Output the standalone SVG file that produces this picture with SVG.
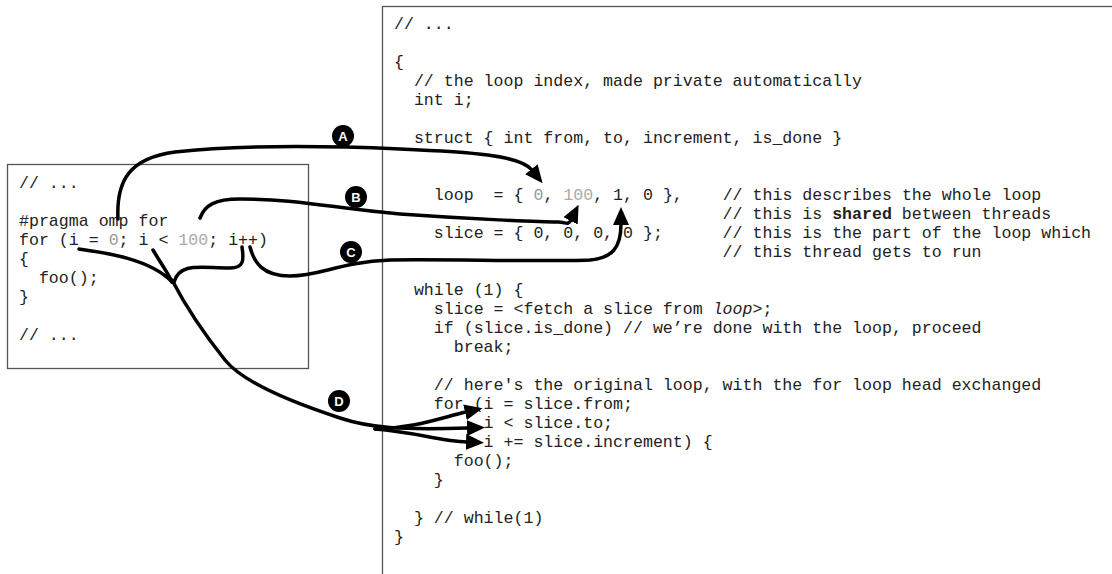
<svg xmlns="http://www.w3.org/2000/svg" width="1112" height="574" viewBox="0 0 1112 574">
<defs>
<style>
.code{font-family:"Liberation Mono","Courier New",monospace;font-size:16.6px;fill:#222;white-space:pre}
.g1{fill:#999}
.g2{fill:#aaa}
.box{fill:#fff;stroke:#555;stroke-width:1.3}
.conn{fill:none;stroke:#000;stroke-width:3.5;stroke-linecap:round}
.lbl circle{fill:#000}
.lbl text{font-family:"Liberation Sans",Arial,sans-serif;font-weight:bold;font-size:13px;fill:#fff;text-anchor:middle}
</style>
<marker id="ah" markerUnits="userSpaceOnUse" markerWidth="18" markerHeight="16" refX="1" refY="8" orient="auto" viewBox="0 0 18 16">
<path d="M0,0 L18,8 L0,16 z" fill="#000"/>
</marker>
</defs>
<rect width="1112" height="574" fill="#fff"/>

<g id="right-box">
<rect class="box" x="382.5" y="6.5" width="760" height="600"/>
<text class="code" x="394" y="29" xml:space="preserve">// ...</text>
<text class="code" x="394" y="67" xml:space="preserve">{</text>
<text class="code" x="394" y="86" xml:space="preserve">  // the loop index, made private automatically</text>
<text class="code" x="394" y="105" xml:space="preserve">  int i;</text>
<text class="code" x="394" y="143" xml:space="preserve">  struct { int from, to, increment, is_done }</text>
<text class="code" x="394" y="200" xml:space="preserve">    loop  = { <tspan class="g1">0</tspan>, <tspan class="g2">100</tspan>, 1, 0 },    // this describes the whole loop</text>
<text class="code" x="394" y="219" xml:space="preserve">                                 // this is <tspan font-weight="bold">shared</tspan> between threads</text>
<text class="code" x="394" y="238" xml:space="preserve">    slice = { 0, 0, 0, 0 };      // this is the part of the loop which</text>
<text class="code" x="394" y="257" xml:space="preserve">                                 // this thread gets to run</text>
<text class="code" x="394" y="295" xml:space="preserve">  while (1) {</text>
<text class="code" x="394" y="314" xml:space="preserve">    slice = &lt;fetch a slice from <tspan font-style="italic">loop</tspan>&gt;;</text>
<text class="code" x="394" y="333" xml:space="preserve">    if (slice.is_done) // we’re done with the loop, proceed</text>
<text class="code" x="394" y="352" xml:space="preserve">      break;</text>
<text class="code" x="394" y="390" xml:space="preserve">    // here's the original loop, with the for loop head exchanged</text>
<text class="code" x="394" y="409" xml:space="preserve">    for (i = slice.from;</text>
<text class="code" x="394" y="428" xml:space="preserve">         i &lt; slice.to;</text>
<text class="code" x="394" y="447" xml:space="preserve">         i += slice.increment) {</text>
<text class="code" x="394" y="466" xml:space="preserve">      foo();</text>
<text class="code" x="394" y="485" xml:space="preserve">    }</text>
<text class="code" x="394" y="523" xml:space="preserve">  } // while(1)</text>
<text class="code" x="394" y="542" xml:space="preserve">}</text>
</g>

<g id="left-box">
<rect class="box" x="7.5" y="164.5" width="301" height="204"/>
<text class="code" x="19" y="188" xml:space="preserve">// ...</text>
<text class="code" x="19" y="226" xml:space="preserve">#pragma omp for</text>
<text class="code" x="19" y="245" xml:space="preserve">for (i = <tspan class="g1">0</tspan>; i &lt; <tspan class="g2">100</tspan>; i++)</text>
<text class="code" x="19" y="264" xml:space="preserve">{</text>
<text class="code" x="19" y="283" xml:space="preserve">  foo();</text>
<text class="code" x="19" y="302" xml:space="preserve">}</text>
<text class="code" x="19" y="340" xml:space="preserve">// ...</text>
</g>

<g id="connectors">
<path id="conn-A" class="conn" marker-end="url(#ah)" d="M118,219 C116,180 130,158 175,152 C240,145 330,146 400,149 C470,152 520,155 532,170"/>
<path id="conn-B" class="conn" marker-end="url(#ah)" d="M200,218 C205,205 215,199 240,199 C300,199 330,208 400,214 C470,219 540,222 558,222 C566,222 568,226 571,220"/>
<path id="conn-C" class="conn" marker-end="url(#ah)" d="M250,247 C254,262 262,276 290,276 C320,276 340,262 390,260 C450,259 540,262 590,260 C612,258 621,248 621,224"/>
<path id="conn-D1" class="conn" d="M79,249 C100,252 150,258 172,282"/>
<path id="conn-D2" class="conn" d="M153,250 C160,262 168,273 172,282"/>
<path id="conn-D3" class="conn" d="M242,247 C244,260 244,268 230,268 C200,268 180,262 174,282"/>
<path id="conn-D4" class="conn" marker-end="url(#ah)" d="M172,280 C185,305 205,335 225,360 C245,385 300,405 340,418 C370,428 400,430 468,428"/>
<path id="conn-D5" class="conn" marker-end="url(#ah)" d="M375,429 C415,428 440,418 466,412"/>
<path id="conn-D6" class="conn" marker-end="url(#ah)" d="M375,429 C415,432 440,441 467,442"/>
</g>

<g id="label-A" class="lbl"><circle cx="343" cy="136" r="11"/><text x="343" y="140.5">A</text></g>
<g id="label-B" class="lbl"><circle cx="356" cy="197" r="11"/><text x="356" y="201.5">B</text></g>
<g id="label-C" class="lbl"><circle cx="351" cy="252" r="11"/><text x="351" y="256.5">C</text></g>
<g id="label-D" class="lbl"><circle cx="339" cy="401" r="11"/><text x="339" y="405.5">D</text></g>
</svg>
